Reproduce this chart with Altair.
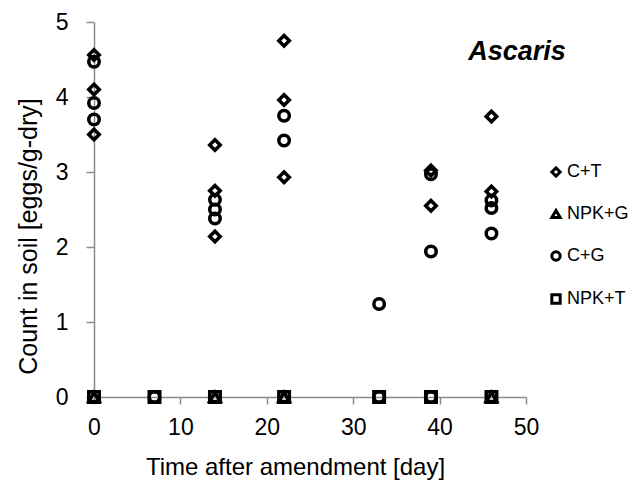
import altair as alt
import pandas as pd

series_names = ["C+T", "NPK+G", "C+G", "NPK+T"]
series_shapes = ["diamond", "triangle-up", "circle", "square"]

ct_day = [0, 0, 0, 14, 14, 14, 22, 22, 22, 39, 39, 46, 46]
ct_val = [4.56, 4.10, 3.50, 3.36, 2.75, 2.14, 4.75, 3.96, 2.93, 3.02, 2.55, 3.74, 2.74]

npkg_day = [0, 14, 22, 46]
npkg_val = [0, 0, 0, 0]

cg_day = [0, 0, 0, 7, 14, 14, 14, 22, 22, 33, 33, 39, 39, 39, 46, 46, 46]
cg_val = [4.47, 3.92, 3.70, 0, 2.63, 2.50, 2.38, 3.75, 3.42, 1.24, 0, 2.97, 1.94, 0, 2.62, 2.52, 2.18]

npkt_day = [0, 7, 14, 22, 33, 39, 46]
npkt_val = [0, 0, 0, 0, 0, 0, 0]

x_ticks = [0, 10, 20, 30, 40, 50]
y_ticks = [0, 1, 2, 3, 4, 5]

label_text = ["Ascaris"]
label_x = [54.6]
label_y = [4.6]

rows = []
for name, days, vals in [("C+T", ct_day, ct_val), ("NPK+G", npkg_day, npkg_val),
                         ("C+G", cg_day, cg_val), ("NPK+T", npkt_day, npkt_val)]:
    for d, v in zip(days, vals):
        rows.append({"day": d, "count": v, "series": name})
df = pd.DataFrame(rows)

FONT = "Liberation Sans"
AX = "#8c8c8c"

xenc = alt.X("day:Q", scale=alt.Scale(domain=[0, 50], nice=False),
             axis=alt.Axis(values=x_ticks, format="d", title="Time after amendment [day]", grid=False,
                           domainColor=AX, domainWidth=1.5, tickColor=AX, tickWidth=1.5, tickSize=7,
                           labelFontSize=23, titleFontSize=24, labelPadding=12, titlePadding=16,
                           labelFlush=False, labelOverlap=False, titleX=201,
                           labelColor="black", titleColor="black", titleFontWeight="normal",
                           labelFont=FONT, titleFont=FONT))
yenc = alt.Y("count:Q", scale=alt.Scale(domain=[0, 5], nice=False),
             axis=alt.Axis(values=y_ticks, format="d", title="Count in soil [eggs/g-dry]", grid=False,
                           domainColor=AX, domainWidth=1.5, tickColor=AX, tickWidth=1.5, tickSize=8,
                           labelFontSize=23, titleFontSize=25, labelPadding=18, titlePadding=14,
                           labelFlush=False, labelOverlap=False, titleY=214,
                           labelColor="black", titleColor="black", titleFontWeight="normal",
                           labelFont=FONT, titleFont=FONT))

points = alt.Chart(df).mark_point(filled=False, color="black", strokeWidth=3.5, size=110,
                                  opacity=1, clip=False).encode(
    x=xenc,
    y=yenc,
    shape=alt.Shape("series:N", sort=series_names,
                    scale=alt.Scale(domain=series_names, range=series_shapes),
                    legend=alt.Legend(title=None, orient="none", legendX=453, legendY=141,
                                      labelFontSize=18, labelFont=FONT, labelColor="black",
                                      symbolSize=70, symbolStrokeWidth=3, symbolStrokeColor="black",
                                      symbolFillColor="transparent", rowPadding=21, labelOffset=2))
)

lab_df = pd.DataFrame({"x": label_x, "y": label_y, "t": label_text})
label = alt.Chart(lab_df).mark_text(align="right", baseline="middle", fontSize=27,
                                    fontWeight="bold", fontStyle="italic", font=FONT,
                                    color="black", clip=False).encode(
    x=alt.X("x:Q"), y=alt.Y("y:Q"), text="t:N")

chart = alt.layer(points, label).properties(
    width=432, height=375,
    autosize=alt.AutoSizeParams(type="none"),
    padding={"left": 94, "top": 22, "right": 108, "bottom": 98},
    background="white",
).configure_view(stroke=None)

chart.save("out.html", embed_options={"renderer": "svg", "actions": False})
